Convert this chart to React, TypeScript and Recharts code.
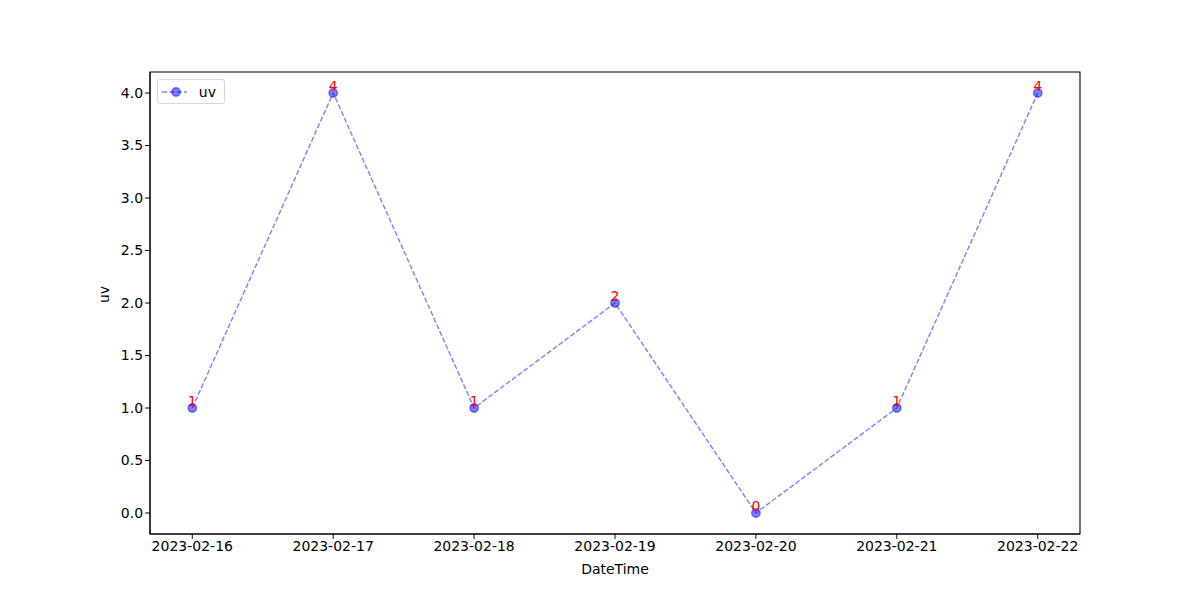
import React from 'react';
import { LineChart, Line, XAxis, YAxis, LabelList, Label, ReferenceArea } from 'recharts';

const dates = ['2023-02-16', '2023-02-17', '2023-02-18', '2023-02-19', '2023-02-20', '2023-02-21', '2023-02-22'];
const uvValues = [1, 4, 1, 2, 0, 1, 4];
const yTicks = [0, 0.5, 1, 1.5, 2, 2.5, 3, 3.5, 4];

const data = dates.map((d, i) => ({ idx: i, date: d, uv: uvValues[i] }));

const FONT = '"DejaVu Sans", sans-serif';
const LINE = 'rgba(0,0,255,0.5)';
const DASH = '5.1 2.2';

const LegendBox = () => (
  <div
    style={{
      position: 'absolute',
      left: 157,
      top: 79,
      display: 'flex',
      alignItems: 'center',
      boxSizing: 'border-box',
      border: '1px solid #d6d6d6',
      borderRadius: 3,
      background: 'rgba(255,255,255,0.8)',
      padding: '0 8px 0 4px',
      fontFamily: FONT,
      fontSize: 14,
      height: 25,
      width: 68,
    }}
  >
    <svg width={28} height={12} style={{ marginRight: 12 }}>
      <line x1={0} y1={6} x2={28} y2={6} stroke={LINE} strokeWidth={1.4} strokeDasharray={DASH} />
      <circle cx={14} cy={6} r={4.2} fill={LINE} stroke={LINE} strokeWidth={1.4} />
    </svg>
    <span>uv</span>
  </div>
);

const PointLabel = (props: any) => {
  const { x, y, value } = props;
  return (
    <text x={x} y={y - 2} textAnchor="middle" fill="red" fontSize={14} fontFamily={FONT}>
      {value}
    </text>
  );
};

export default function App() {
  return (
    <div style={{ position: 'absolute', left: 0, top: 0, width: 1200, height: 600, background: '#fff' }}>
      <LineChart width={1200} height={600} data={data} margin={{ top: 72, right: 120, bottom: 0, left: 90 }}>
        <XAxis
          dataKey="idx"
          type="number"
          domain={[-0.3, 6.3]}
          ticks={[0, 1, 2, 3, 4, 5, 6]}
          tickFormatter={(v: number) => dates[v]}
          height={66}
          stroke="#000"
          tickSize={4.9}
          tick={{ fill: '#000', fontSize: 14, fontFamily: FONT }}
          tickMargin={2}
          interval={0}
          allowDataOverflow
        >
          <Label value="DateTime" position="insideBottom" offset={26} fill="#000" fontSize={14} fontFamily={FONT} />
        </XAxis>
        <YAxis
          type="number"
          domain={[-0.2, 4.2]}
          ticks={yTicks}
          tickFormatter={(v: number) => v.toFixed(1)}
          width={60}
          stroke="#000"
          tickSize={4.9}
          tick={{ fill: '#000', fontSize: 14, fontFamily: FONT }}
          tickMargin={2}
          interval={0}
          allowDataOverflow
        >
          <Label value="uv" angle={-90} position="insideLeft" offset={14} fill="#000" fontSize={14} fontFamily={FONT} />
        </YAxis>
        <ReferenceArea x1={-0.3} x2={6.3} y1={-0.2} y2={4.2} fill="none" stroke="#000" strokeWidth={1.1} ifOverflow="visible" />
        <Line
          type="linear"
          dataKey="uv"
          stroke={LINE}
          strokeWidth={1.4}
          strokeDasharray={DASH}
          dot={{ r: 4.2, fill: LINE, stroke: LINE, strokeWidth: 1.4, strokeDasharray: '' }}
          activeDot={false}
          isAnimationActive={false}
        >
          <LabelList dataKey="uv" content={<PointLabel />} />
        </Line>
      </LineChart>
      <LegendBox />
    </div>
  );
}
